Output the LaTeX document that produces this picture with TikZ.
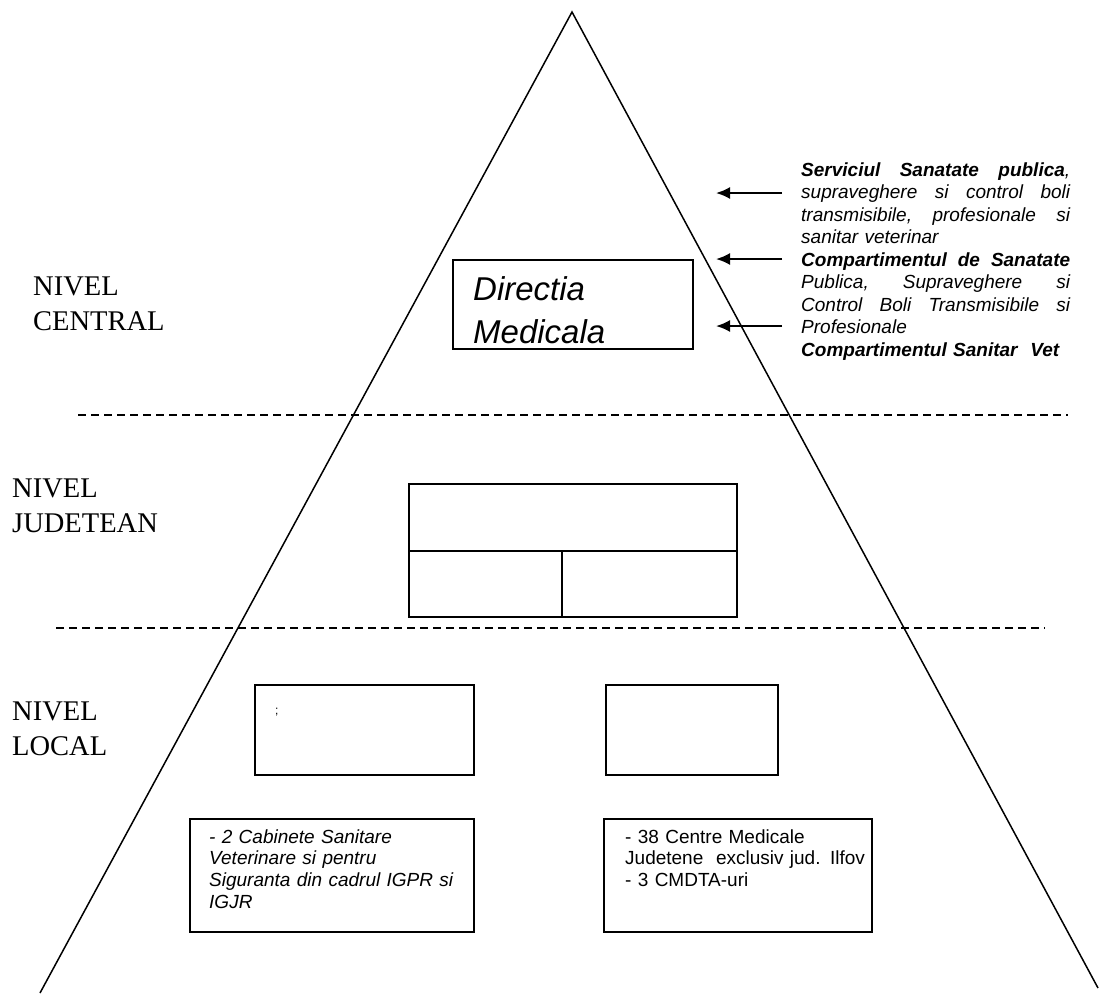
\documentclass[tikz,border=0pt]{standalone}
\usepackage{fontspec}
\setmainfont{Liberation Serif}
\newfontfamily\arial{Liberation Sans}
\usetikzlibrary{arrows.meta}
\newlength{\desclen}
\setlength{\desclen}{269pt}
\newcommand{\jl}[1]{\makebox[\desclen][l]{#1}}
\begin{document}
\begin{tikzpicture}[x=1pt,y=-1pt,
  tri/.style={line width=1.5pt},
  sep/.style={line width=1.5pt,dash pattern=on 8pt off 5pt},
  box/.style={draw,line width=2pt,anchor=north west,inner sep=0pt,outer sep=0pt},
  lvl/.style={anchor=base west,inner sep=0pt,text width=200pt,align=left,font=\fontsize{28.5}{35}\selectfont},
  ptr/.style={line width=2pt,-{Latex[length=14pt,width=12pt]}},
  smalltxt/.style={anchor=base west,inner sep=0pt,align=left,font=\arial\fontsize{19}{21.7}\selectfont}
]
\useasboundingbox (0,0) rectangle (1102,993);
% pyramid
\coordinate (apex) at (572,12);
\coordinate (bl) at (40,993);
\coordinate (br) at (1098,988);
\draw[tri] (bl) -- (apex) -- (br);
% level separators
\coordinate (s1a) at (78,415);
\coordinate (s1b) at (1068,415);
\coordinate (s2a) at (56,628);
\coordinate (s2b) at (1045,628);
\draw[sep] (s1a) -- (s1b);
\draw[sep] (s2a) -- (s2b);
% level labels
\node[lvl] (lc) at (33,295) {NIVEL\\CENTRAL};
\node[lvl] (lj) at (12,497) {NIVEL\\JUDETEAN};
\node[lvl] (ll) at (12,720) {NIVEL\\LOCAL};
% central box
\node[box,minimum width=240pt,minimum height=89pt] (dm) at (453,260) {};
\node[anchor=base west,inner sep=0pt,text width=200pt,align=left,font=\arial\itshape\fontsize{33}{43}\selectfont] (dmt) at (473,300) {Directia\\Medicala};
% judetean boxes
\node[box,minimum width=328pt,minimum height=67pt] (jt) at (409,484) {};
\node[box,minimum width=153pt,minimum height=66pt] (jl) at (409,551) {};
\node[box,minimum width=175pt,minimum height=66pt] (jr) at (562,551) {};
% local boxes
\node[box,minimum width=219pt,minimum height=90pt] (la) at (255,685) {};
\node[anchor=base west,inner sep=0pt,font=\arial\fontsize{12}{14}\selectfont] (semi) at (275,714) {;};
\node[box,minimum width=172pt,minimum height=90pt] (lb) at (606,685) {};
% bottom boxes
\node[box,minimum width=284pt,minimum height=113pt] (ba) at (190,819) {};
\node[smalltxt,text width=300pt,font=\arial\itshape\fontsize{19}{21.7}\selectfont] (bat) at (209,843) {- 2 Cabinete Sanitare\\Veterinare si pentru\\\makebox[244pt][l]{Siguranta\hfill din\hfill cadrul\hfill IGPR\hfill si}\\IGJR};
\node[box,minimum width=268pt,minimum height=113pt] (bb) at (604,819) {};
\node[smalltxt,text width=300pt] (bbt) at (625,843) {- 38 Centre Medicale\\Judetene\ \ exclusiv jud. Ilfov\\- 3 CMDTA-uri};
% right description text
\node[anchor=base west,inner sep=0pt,text width=269pt,align=left,font=\arial\itshape\fontsize{19}{22.5}\selectfont] (desc) at (801,176) {%
\jl{\bfseries Serviciul\hfill Sanatate\hfill publica\mdseries,}\\
\jl{supraveghere\hfill si\hfill control\hfill boli}\\
\jl{transmisibile,\hfill profesionale\hfill si}\\
sanitar veterinar\\
\jl{\bfseries Compartimentul\hfill de\hfill Sanatate}\\
\jl{Publica,\hfill Supraveghere\hfill si}\\
\jl{Control\hfill Boli\hfill Transmisibile\hfill si}\\
Profesionale\\
{\bfseries Compartimentul Sanitar\ \ Vet}};
% arrows
\coordinate (a1s) at (782,193); \coordinate (a1e) at (716,193);
\coordinate (a2s) at (782,259); \coordinate (a2e) at (716,259);
\coordinate (a3s) at (782,326); \coordinate (a3e) at (716,326);
\draw[ptr] (a1s) -- (a1e);
\draw[ptr] (a2s) -- (a2e);
\draw[ptr] (a3s) -- (a3e);
\end{tikzpicture}
\end{document}
